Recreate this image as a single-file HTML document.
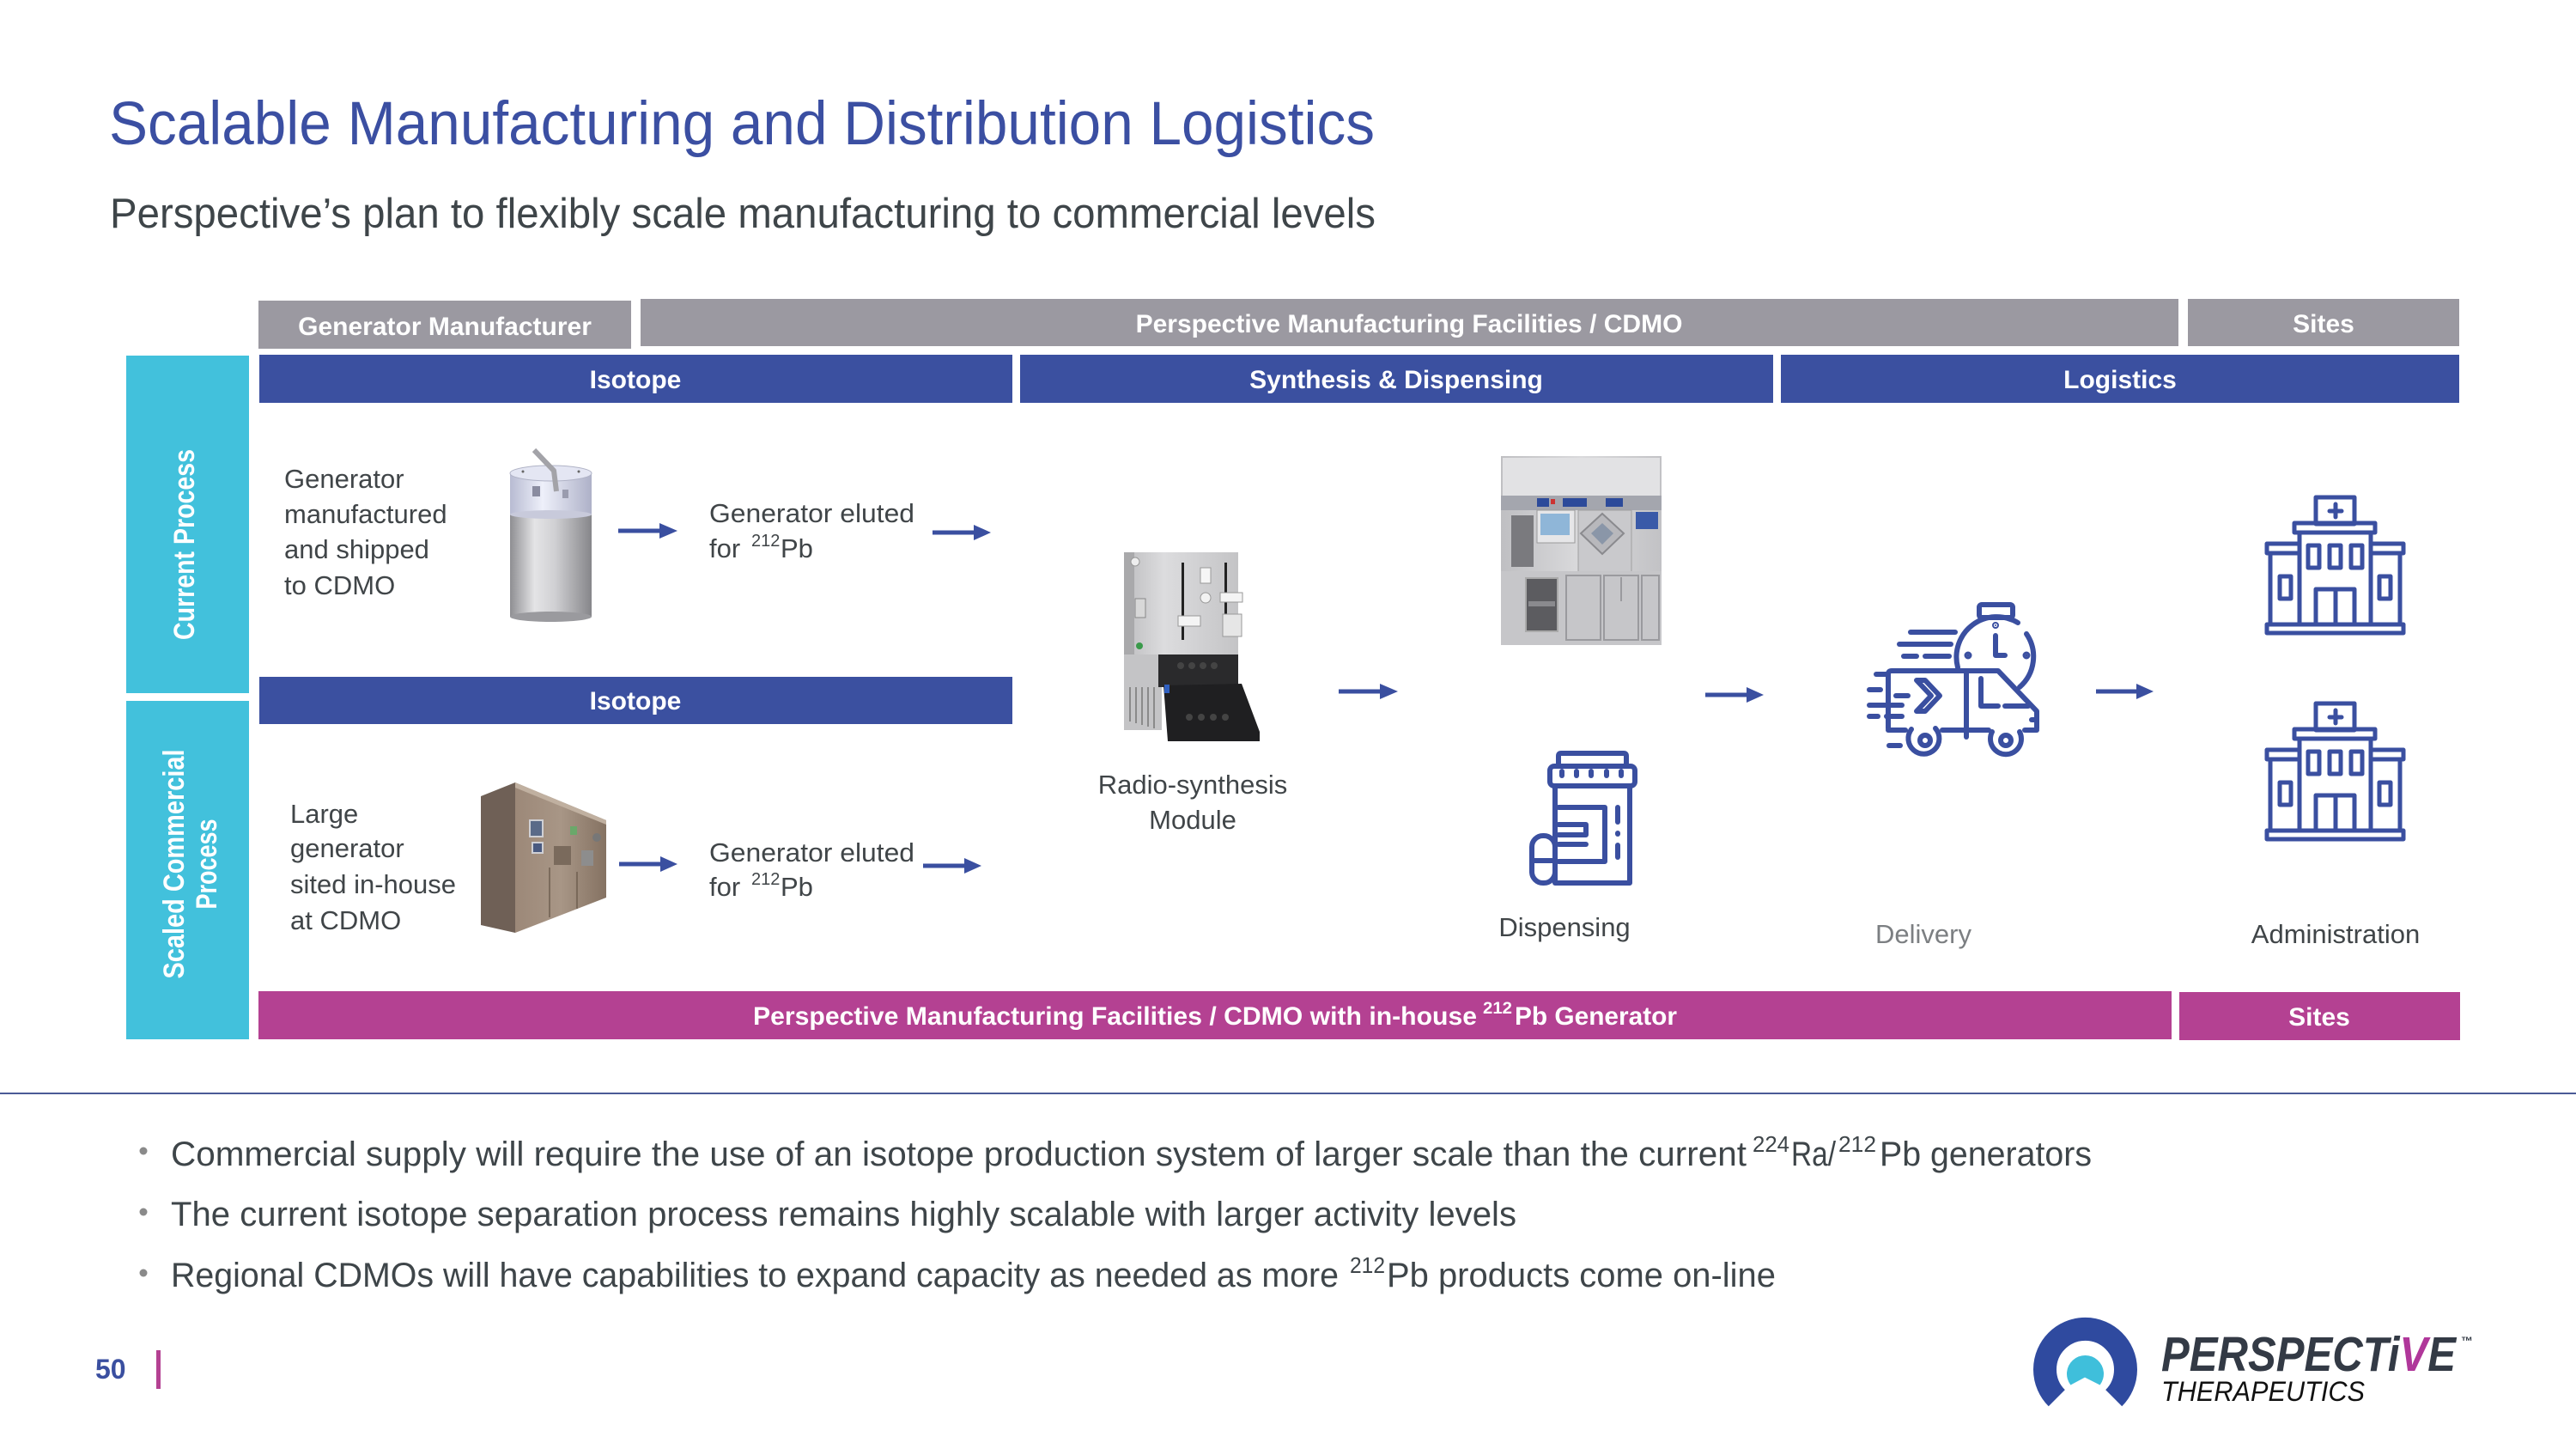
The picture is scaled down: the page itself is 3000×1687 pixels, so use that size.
<!DOCTYPE html>
<html><head><meta charset="utf-8"><style>
html,body{margin:0;padding:0;background:#fff;}
svg{display:block;}
text{font-family:"Liberation Sans",Arial,sans-serif;}
</style></head><body>
<svg width="3000" height="1687" viewBox="0 0 3000 1687" xmlns="http://www.w3.org/2000/svg">
<defs>
<linearGradient id="cyl" x1="0" x2="1" y1="0" y2="0">
<stop offset="0" stop-color="#8e8e92"/><stop offset="0.3" stop-color="#e4e4e6"/><stop offset="0.55" stop-color="#d0d0d3"/><stop offset="1" stop-color="#86868a"/></linearGradient>
<linearGradient id="cap" x1="0" x2="1" y1="0" y2="0">
<stop offset="0" stop-color="#b8bbd2"/><stop offset="0.4" stop-color="#eef0fa"/><stop offset="1" stop-color="#aeb1c8"/></linearGradient>
<linearGradient id="cab" x1="0" x2="1" y1="0" y2="0">
<stop offset="0" stop-color="#9c8878"/><stop offset="0.5" stop-color="#a89686"/><stop offset="1" stop-color="#857262"/></linearGradient>
<linearGradient id="silver" x1="0" x2="1" y1="0" y2="0">
<stop offset="0" stop-color="#bdbdbf"/><stop offset="0.35" stop-color="#dcdcde"/><stop offset="1" stop-color="#c4c4c6"/></linearGradient>
<linearGradient id="steel" x1="0" x2="1" y1="0" y2="0">
<stop offset="0" stop-color="#bfbfc2"/><stop offset="0.5" stop-color="#dadadc"/><stop offset="1" stop-color="#c2c2c5"/></linearGradient>
</defs>

<!-- Title -->
<text x="127" y="168" font-size="71" fill="#3b4fa2" textLength="1474" lengthAdjust="spacingAndGlyphs">Scalable Manufacturing and Distribution Logistics</text>
<text x="128" y="265" font-size="49" fill="#3e4549" textLength="1474" lengthAdjust="spacingAndGlyphs">Perspective’s plan to flexibly scale manufacturing to commercial levels</text>

<!-- Header bars -->
<rect x="301" y="350" width="434" height="56" fill="#9b99a1"/>
<rect x="746" y="348" width="1791" height="55" fill="#9b99a1"/>
<rect x="2548" y="348" width="316" height="55" fill="#9b99a1"/>
<g font-weight="bold" font-size="30" fill="#fff" text-anchor="middle">
<text x="518" y="390">Generator Manufacturer</text>
<text x="1641" y="387">Perspective Manufacturing Facilities / CDMO</text>
<text x="2706" y="387">Sites</text>
</g>
<rect x="302" y="413" width="877" height="56" fill="#3b50a0"/>
<rect x="1188" y="413" width="877" height="56" fill="#3b50a0"/>
<rect x="2074" y="413" width="790" height="56" fill="#3b50a0"/>
<rect x="302" y="788" width="877" height="55" fill="#3b50a0"/>
<g font-weight="bold" font-size="30" fill="#fff" text-anchor="middle">
<text x="740" y="452">Isotope</text>
<text x="1626" y="452">Synthesis &amp; Dispensing</text>
<text x="2469" y="452">Logistics</text>
<text x="740" y="826">Isotope</text>
</g>

<!-- Cyan side bars -->
<rect x="147" y="414" width="143" height="393" fill="#42c1dc"/>
<rect x="147" y="816" width="143" height="394" fill="#42c1dc"/>
<g font-weight="bold" font-size="34" fill="#fff" text-anchor="middle">
<text transform="translate(226,634) rotate(-90)" x="0" y="0" textLength="222" lengthAdjust="spacingAndGlyphs">Current Process</text>
<text transform="translate(214,1006) rotate(-90)" x="0" y="0" textLength="267" lengthAdjust="spacingAndGlyphs">Scaled Commercial</text>
<text transform="translate(252,1006) rotate(-90)" x="0" y="0" textLength="105" lengthAdjust="spacingAndGlyphs">Process</text>
</g>

<!-- Magenta bars -->
<rect x="301" y="1154" width="2228" height="56" fill="#b44192"/>
<rect x="2538" y="1155" width="327" height="56" fill="#b44192"/>
<g font-weight="bold" fill="#fff">
<text x="877" y="1193" font-size="30" textLength="843" lengthAdjust="spacingAndGlyphs">Perspective Manufacturing Facilities / CDMO with in-house</text>
<text x="1727" y="1180" font-size="19" textLength="34" lengthAdjust="spacingAndGlyphs">212</text>
<text x="1764" y="1193" font-size="30" textLength="189" lengthAdjust="spacingAndGlyphs">Pb Generator</text>
<text x="2701" y="1194" font-size="30" text-anchor="middle">Sites</text>
</g>

<!-- Left texts -->
<g font-size="31" fill="#404548">
<text x="331" y="568">Generator</text>
<text x="331" y="609">manufactured</text>
<text x="331" y="650">and shipped</text>
<text x="331" y="692">to CDMO</text>
<text x="826" y="608" textLength="239" lengthAdjust="spacingAndGlyphs">Generator eluted</text>
<text x="826" y="649">for</text>
<text x="875" y="636" font-size="20">212</text>
<text x="909" y="649">Pb</text>
<text x="338" y="958">Large</text>
<text x="338" y="998">generator</text>
<text x="338" y="1040">sited in-house</text>
<text x="338" y="1082">at CDMO</text>
<text x="826" y="1003" textLength="239" lengthAdjust="spacingAndGlyphs">Generator eluted</text>
<text x="826" y="1043">for</text>
<text x="875" y="1030" font-size="20">212</text>
<text x="909" y="1043">Pb</text>
<text x="1389" y="924" text-anchor="middle">Radio-synthesis</text>
<text x="1389" y="965" text-anchor="middle">Module</text>
<text x="1822" y="1090" text-anchor="middle">Dispensing</text>
<text x="2240" y="1098" text-anchor="middle" fill="#7c7f82">Delivery</text>
<text x="2720" y="1098" text-anchor="middle">Administration</text>
</g>

<!-- Arrows -->
<g fill="#3a4fa0" stroke="none">
<rect x="720" y="615.5" width="50" height="5"/><polygon points="768,609 789,618 768,627"/>
<rect x="1086" y="617.5" width="50" height="5"/><polygon points="1134,611 1154,620 1134,629"/>
<rect x="721" y="1003.5" width="50" height="5"/><polygon points="769,997 789,1006 769,1015"/>
<rect x="1075" y="1005.5" width="50" height="5"/><polygon points="1123,999 1143,1008 1123,1017"/>
<rect x="1559" y="802.5" width="50" height="5"/><polygon points="1607,796 1628,805 1607,814"/>
<rect x="1986" y="806.5" width="50" height="5"/><polygon points="2034,800 2054,809 2034,818"/>
<rect x="2441" y="802.5" width="50" height="5"/><polygon points="2488,796 2508,805 2488,814"/>
</g>

<!-- Generator cylinder -->
<g>
<rect x="594" y="596" width="95" height="122" fill="url(#cyl)"/>
<ellipse cx="641.5" cy="718" rx="47.5" ry="6" fill="#9a9a9e"/>
<rect x="594" y="551" width="95" height="48" fill="url(#cap)"/>
<ellipse cx="641.5" cy="599" rx="47.5" ry="5" fill="#c8cadb"/>
<ellipse cx="641.5" cy="551" rx="47.5" ry="9" fill="#e4e6f3" stroke="#b0b3c6" stroke-width="1"/>
<circle cx="609" cy="549" r="1.5" fill="#666"/><circle cx="674" cy="549" r="1.5" fill="#666"/>
<rect x="620" y="566" width="9" height="12" fill="#8a8ca0"/>
<rect x="655" y="570" width="7" height="10" fill="#9a9cae"/>
<path d="M622,524 L645,548 L648,572" fill="none" stroke="#a3a3a8" stroke-width="6" stroke-linejoin="round"/>
</g>

<!-- Large generator cabinet -->
<g>
<polygon points="560,927 600,911 600,1086 560,1077" fill="#6f6056"/>
<polygon points="600,911 706,955 706,1045 600,1086" fill="url(#cab)"/>
<polygon points="600,911 706,955 706,960 600,917" fill="#c0b0a0"/>
<rect x="617" y="955" width="15" height="19" fill="#5a6a88" stroke="#cfcfd4" stroke-width="2"/>
<rect x="620" y="981" width="12" height="12" fill="#4a5a80" stroke="#cfcfd4" stroke-width="2"/>
<rect x="664" y="962" width="8" height="10" fill="#6aa86a"/>
<rect x="645" y="985" width="20" height="22" fill="#7a6a5c"/>
<rect x="677" y="990" width="14" height="18" fill="#8d8d8d"/>
<circle cx="695" cy="975" r="5" fill="#777"/>
<line x1="640" y1="1010" x2="640" y2="1068" stroke="#6e5e50" stroke-width="1.5"/>
<line x1="672" y1="1015" x2="672" y2="1058" stroke="#6e5e50" stroke-width="1.5"/>
</g>

<!-- Radio-synthesis module -->
<g>
<rect x="1309" y="643" width="133" height="119" fill="url(#silver)"/>
<rect x="1309" y="643" width="12" height="119" fill="#a9a9ab"/>
<circle cx="1322" cy="654" r="5" fill="#eee" stroke="#999"/>
<rect x="1376" y="655" width="3" height="90" fill="#222"/>
<rect x="1426" y="655" width="3" height="80" fill="#222"/>
<rect x="1398" y="661" width="12" height="18" fill="#f6f6f6" stroke="#999"/>
<circle cx="1404" cy="696" r="6" fill="#f2f2f2" stroke="#999"/>
<rect x="1372" y="717" width="26" height="12" fill="#f4f4f4" stroke="#999"/>
<rect x="1421" y="690" width="26" height="11" fill="#f4f4f4" stroke="#999"/>
<rect x="1424" y="715" width="22" height="26" fill="#e6e6e6" stroke="#999"/>
<rect x="1322" y="697" width="12" height="22" fill="#d8d8d8" stroke="#888"/>
<circle cx="1327" cy="752" r="4" fill="#3a9a4a"/>
<rect x="1309" y="762" width="44" height="88" fill="#c4c4c6"/>
<g stroke="#777" stroke-width="1.5"><line x1="1316" y1="800" x2="1316" y2="840"/><line x1="1323" y1="800" x2="1323" y2="842"/><line x1="1330" y1="800" x2="1330" y2="844"/><line x1="1337" y1="800" x2="1337" y2="846"/><line x1="1344" y1="800" x2="1344" y2="848"/></g>
<rect x="1349" y="762" width="93" height="38" fill="#2a2a2c"/>
<polygon points="1355,798 1446,796 1467,852 1467,863 1360,863" fill="#1f1f21"/>
<rect x="1356" y="797" width="6" height="10" fill="#3060c0"/>
<g fill="#444"><circle cx="1375" cy="775" r="4"/><circle cx="1388" cy="775" r="4"/><circle cx="1401" cy="775" r="4"/><circle cx="1414" cy="775" r="4"/><circle cx="1385" cy="835" r="4"/><circle cx="1399" cy="835" r="4"/><circle cx="1413" cy="835" r="4"/><circle cx="1427" cy="835" r="4"/></g>
</g>

<!-- Hot cell -->
<g>
<rect x="1748" y="531" width="187" height="220" fill="url(#steel)"/>
<rect x="1750" y="533" width="183" height="44" fill="#e2e2e4"/>
<rect x="1748" y="577" width="187" height="17" fill="#a4a6ae"/>
<rect x="1790" y="580" width="14" height="10" fill="#2c4a9a"/><rect x="1820" y="580" width="28" height="10" fill="#2c4a9a"/><rect x="1870" y="580" width="20" height="10" fill="#2c4a9a"/>
<rect x="1806" y="581" width="5" height="6" fill="#cc3333"/>
<rect x="1790" y="594" width="44" height="38" fill="#e6e6e8" stroke="#9a9a9a"/>
<rect x="1794" y="598" width="34" height="25" fill="#8fb6d8"/>
<rect x="1838" y="594" width="62" height="72" fill="#c9c9cc" stroke="#a0a0a0"/>
<polygon points="1866,598 1891,621 1866,645 1841,621" fill="#b8b8bc" stroke="#8a8a8e" stroke-width="2"/>
<polygon points="1866,609 1879,621 1866,634 1853,621" fill="#8a96a8"/>
<rect x="1905" y="596" width="26" height="20" fill="#3a5aa8"/>
<rect x="1760" y="600" width="26" height="60" fill="#7a7a7e"/>
<rect x="1748" y="665" width="187" height="86" fill="#c6c6c9"/>
<rect x="1777" y="673" width="37" height="62" fill="#5c5c60" stroke="#aaa" stroke-width="2"/>
<rect x="1780" y="700" width="31" height="6" fill="#8a8a8e"/>
<g stroke="#9a9a9e" stroke-width="2" fill="none"><rect x="1824" y="670" width="40" height="75"/><rect x="1868" y="670" width="40" height="75"/><line x1="1888" y1="672" x2="1888" y2="700"/><rect x="1912" y="670" width="20" height="75"/></g>
</g>

<!-- Pill bottle icon -->
<g fill="none" stroke="#3a4fa0" stroke-width="6" stroke-linecap="round" stroke-linejoin="round">
<path d="M1815,892 L1815,880 Q1815,877 1818,877 L1891,877 Q1894,877 1894,880 L1894,892"/>
<rect x="1805" y="892" width="99" height="23" rx="5"/>
<line x1="1819" y1="898" x2="1819" y2="903"/><line x1="1836" y1="898" x2="1836" y2="903"/><line x1="1853" y1="898" x2="1853" y2="903"/><line x1="1871" y1="898" x2="1871" y2="903"/><line x1="1888" y1="898" x2="1888" y2="903"/>
<path d="M1811,915 L1811,1028 L1898,1028 L1898,915"/>
<path d="M1815,940 L1869,940 L1869,1003 L1815,1003"/>
<path d="M1815,960 L1847,960 L1847,972 L1815,972"/>
<line x1="1815" y1="983" x2="1847" y2="983"/>
<line x1="1884" y1="940" x2="1884" y2="957"/><line x1="1884" y1="970" x2="1884" y2="971"/><line x1="1884" y1="984" x2="1884" y2="998"/>
<rect x="1784" y="973" width="27" height="55" rx="13" fill="#fff"/>
<line x1="1784" y1="1002" x2="1811" y2="1002"/>
</g>

<!-- Truck icon -->
<g fill="none" stroke="#3a4fa0" stroke-width="6" stroke-linecap="round" stroke-linejoin="round">
<rect x="2305" y="704" width="39" height="15" rx="3"/>
<path d="M2280,777 A47,47 0 0 1 2350,725"/>
<path d="M2360,738 A47,47 0 0 1 2352,800"/>
<circle cx="2324" cy="728" r="1" fill="#3a4fa0"/>
<path d="M2324,740 L2324,763 L2335,763"/>
<circle cx="2292" cy="763" r="1.5" fill="#3a4fa0"/><circle cx="2360" cy="763" r="1.5" fill="#3a4fa0"/>
<line x1="2225" y1="736" x2="2277" y2="736"/>
<line x1="2212" y1="750" x2="2272" y2="750"/>
<line x1="2217" y1="764" x2="2232" y2="764"/><line x1="2242" y1="764" x2="2270" y2="764"/>
<path d="M2199,848 L2199,785 Q2199,781 2203,781 L2327,781 L2372,828 L2372,848"/>
<line x1="2290" y1="781" x2="2290" y2="858"/>
<path d="M2307,790 L2307,822 L2327,822"/><line x1="2335" y1="822" x2="2362" y2="822"/>
<line x1="2199" y1="850" x2="2219" y2="850"/><line x1="2262" y1="850" x2="2316" y2="850"/><line x1="2358" y1="850" x2="2372" y2="850"/>
<path d="M2232,792 L2242,792 L2259,810 L2242,828 L2232,828 L2249,810 Z"/>
<line x1="2185" y1="785" x2="2197" y2="785"/>
<line x1="2177" y1="803" x2="2190" y2="803"/><line x1="2208" y1="810" x2="2222" y2="810"/>
<line x1="2177" y1="821" x2="2215" y2="821"/>
<line x1="2177" y1="834" x2="2187" y2="834"/><line x1="2197" y1="834" x2="2215" y2="834"/>
<line x1="2200" y1="868" x2="2213" y2="868"/>
<line x1="2366" y1="838" x2="2372" y2="838"/>
<path d="M2226,849 A18,18 0 1 0 2254,848"/>
<circle cx="2242" cy="862" r="6"/>
<path d="M2320,852 A18,18 0 1 0 2352,852"/>
<circle cx="2336" cy="862" r="6"/>
</g>

<!-- Hospital icons -->
<g id="hosp" fill="none" stroke="#3a4fa0" stroke-width="5" stroke-linecap="round" stroke-linejoin="round">
<rect x="2697" y="579" width="45" height="31"/>
<line x1="2720" y1="587" x2="2720" y2="602"/><line x1="2713" y1="595" x2="2727" y2="595"/>
<rect x="2672" y="609" width="94" height="11"/>
<line x1="2678" y1="620" x2="2678" y2="727"/><line x1="2761" y1="620" x2="2761" y2="727"/>
<rect x="2640" y="633" width="38" height="11"/><rect x="2761" y="633" width="38" height="11"/>
<line x1="2644" y1="644" x2="2644" y2="727"/><line x1="2795" y1="644" x2="2795" y2="727"/>
<rect x="2688" y="635" width="13" height="26"/><rect x="2713" y="635" width="13" height="26"/><rect x="2738" y="635" width="13" height="26"/>
<rect x="2655" y="671" width="13" height="26"/><rect x="2771" y="671" width="13" height="26"/>
<rect x="2697" y="686" width="45" height="41"/><line x1="2720" y1="686" x2="2720" y2="727"/>
<rect x="2640" y="727" width="159" height="10"/>
</g>
<use href="#hosp" transform="translate(0,240)"/>

<!-- Separator -->
<rect x="0" y="1272" width="3000" height="2" fill="#4a5a96"/>

<!-- Bullets -->
<g fill="#8a8a8a"><circle cx="167" cy="1340" r="4.5"/><circle cx="167" cy="1411" r="4.5"/><circle cx="167" cy="1482" r="4.5"/></g>
<g font-size="40" fill="#3e4549">
<text x="199" y="1357" textLength="1835" lengthAdjust="spacingAndGlyphs">Commercial supply will require the use of an isotope production system of larger scale than the current</text>
<text x="2041" y="1341" font-size="26" textLength="43" lengthAdjust="spacingAndGlyphs">224</text>
<text x="2086" y="1357" textLength="52" lengthAdjust="spacingAndGlyphs">Ra/</text>
<text x="2141" y="1341" font-size="26" textLength="44" lengthAdjust="spacingAndGlyphs">212</text>
<text x="2189" y="1357" textLength="247" lengthAdjust="spacingAndGlyphs">Pb generators</text>
<text x="199" y="1427" textLength="1567" lengthAdjust="spacingAndGlyphs">The current isotope separation process remains highly scalable with larger activity levels</text>
<text x="199" y="1498" textLength="1360" lengthAdjust="spacingAndGlyphs">Regional CDMOs will have capabilities to expand capacity as needed as more</text>
<text x="1572" y="1482" font-size="26" textLength="41" lengthAdjust="spacingAndGlyphs">212</text>
<text x="1615" y="1498" textLength="453" lengthAdjust="spacingAndGlyphs">Pb products come on-line</text>
</g>

<!-- Footer -->
<text x="111" y="1605" font-size="32" font-weight="bold" fill="#3a4fa0">50</text>
<rect x="182" y="1572" width="5" height="45" fill="#b44192"/>

<!-- Logo -->
<path d="M2395.3,1627.7 A47,47 0 1 1 2461.7,1627.7" fill="none" stroke="#2f4a9f" stroke-width="27"/>
<path d="M2411.4,1612.5 A21.5,21.5 0 1 1 2445.6,1612.5 L2428,1603.6 Z" fill="#3fbfdb"/>
<text x="2517" y="1596" font-size="57" font-weight="bold" font-style="italic" fill="#333a45" textLength="343" lengthAdjust="spacingAndGlyphs">PERSPECT<tspan>i</tspan><tspan fill="#b0379a">V</tspan>E</text>
<text x="2866" y="1566" font-size="14" font-weight="bold" fill="#333a45">™</text>
<text x="2517" y="1631" font-size="32" font-style="italic" fill="#111" textLength="237" lengthAdjust="spacingAndGlyphs">THERAPEUTICS</text>
</svg>
</body></html>
